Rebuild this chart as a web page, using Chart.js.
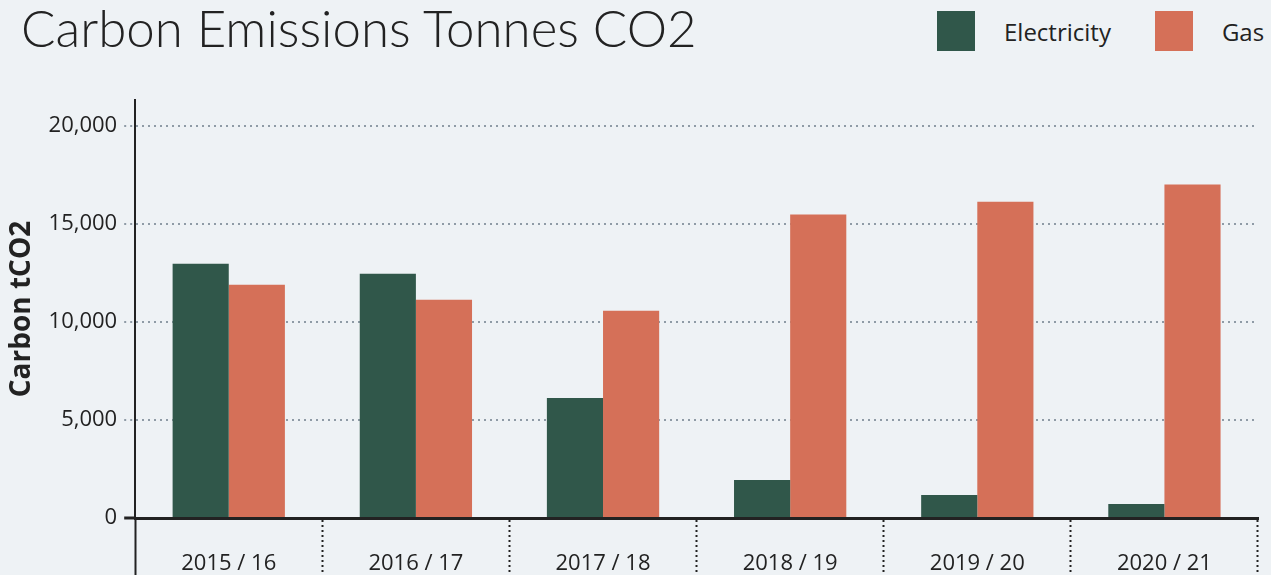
<!DOCTYPE html>
<html>
<head>
<meta charset="utf-8">
<title>Carbon Emissions Tonnes CO2</title>
<script src="https://cdn.jsdelivr.net/npm/chart.js@4.4.0/dist/chart.umd.min.js"></script>
<style>
  html, body { margin: 0; padding: 0; background: #eef2f5; }
  #wrap { position: relative; width: 1271px; height: 575px; overflow: hidden; background: #eef2f5; }
  h1 { position: absolute; left: 21px; top: -3px; margin: 0; font: 300 51px Lato, sans-serif; color: #222; white-space: nowrap; }
  #legend { position: absolute; left: 937px; top: 11px; display: flex; align-items: center; font: 24px "Open Sans", sans-serif; color: #222; }
  #legend .box { width: 38px; height: 40px; }
  #legend .txt { margin-left: 29px; margin-right: 44px; }
  canvas { position: absolute; left: 0; top: 0; }
</style>
</head>
<body>
<div id="wrap">
  <h1>Carbon Emissions Tonnes CO2</h1>
  <div id="legend"></div>
  <canvas id="emissionsChart" width="1271" height="575"></canvas>
</div>
<script>
// Data
const categories = ['2015 / 16', '2016 / 17', '2017 / 18', '2018 / 19', '2019 / 20', '2020 / 21'];
const electricity = [12960, 12450, 6120, 1940, 1170, 710];
const gas = [11890, 11120, 10560, 15460, 16120, 16990];
const yTicks = [0, 5000, 10000, 15000, 20000];
const yMax = 21300;

const seriesNames = ['Electricity', 'Gas'];
const seriesColors = ['#30574a', '#d57058'];
const gridColor = '#8f9ba6';
const axisColor = '#222';

// Legend
const legend = document.getElementById('legend');
seriesNames.forEach((name, i) => {
    const box = document.createElement('span');
    box.className = 'box';
    box.style.background = seriesColors[i];
    const txt = document.createElement('span');
    txt.className = 'txt';
    txt.textContent = name;
    legend.appendChild(box);
    legend.appendChild(txt);
});

// Chart
const ctx = document.getElementById('emissionsChart');
new Chart(ctx, {
    type: 'bar',
    data: {
        labels: categories,
        datasets: [{
            label: seriesNames[0],
            data: electricity,
            backgroundColor: seriesColors[0],
            borderWidth: 0
        }, {
            label: seriesNames[1],
            data: gas,
            backgroundColor: seriesColors[1],
            borderWidth: 0
        }]
    },
    options: {
        responsive: false,
        animation: false,
        devicePixelRatio: 1,
        categoryPercentage: 0.6,
        barPercentage: 1.0,
        layout: {
            padding: { top: 100, left: 5, right: 13, bottom: 0 }
        },
        plugins: {
            legend: { display: false },
            tooltip: { enabled: false }
        },
        scales: {
            x: {
                // the dotted separators run from the axis to the bottom edge
                afterFit: (scale) => { scale.height = 57; },
                grid: {
                    offset: true,
                    drawOnChartArea: false,
                    drawTicks: true,
                    tickLength: 60,
                    tickWidth: 2,
                    tickColor: axisColor,
                    tickBorderDash: (c) => c.index === 0 ? [] : [2, 3]
                },
                border: { display: true, color: axisColor, width: 3 },
                ticks: {
                    padding: -27,
                    color: axisColor,
                    font: { family: '"Open Sans", sans-serif', size: 22 }
                }
            },
            y: {
                min: 0,
                max: yMax,
                afterBuildTicks: (scale) => {
                    scale.ticks = yTicks.map(v => ({ value: v }));
                },
                grid: {
                    color: gridColor,
                    lineWidth: 2,
                    tickLength: 11,
                    tickWidth: (c) => c.tick && c.tick.value === 0 ? 3 : 2,
                    tickColor: (c) => c.tick && c.tick.value === 0 ? axisColor : gridColor,
                    tickBorderDash: (c) => c.tick && c.tick.value === 0 ? [] : [2, 4]
                },
                border: { display: true, color: axisColor, width: 2, dash: [2, 4] },
                ticks: {
                    padding: 7,
                    color: axisColor,
                    font: { family: '"Open Sans", sans-serif', size: 22 },
                    callback: (v) => v.toLocaleString('en-GB')
                },
                title: {
                    display: true,
                    text: 'Carbon tCO2',
                    color: axisColor,
                    padding: { top: 0, bottom: 3 },
                    font: { family: '"Open Sans", sans-serif', size: 28, weight: 'bold' }
                }
            }
        }
    }
});
</script>
</body>
</html>
